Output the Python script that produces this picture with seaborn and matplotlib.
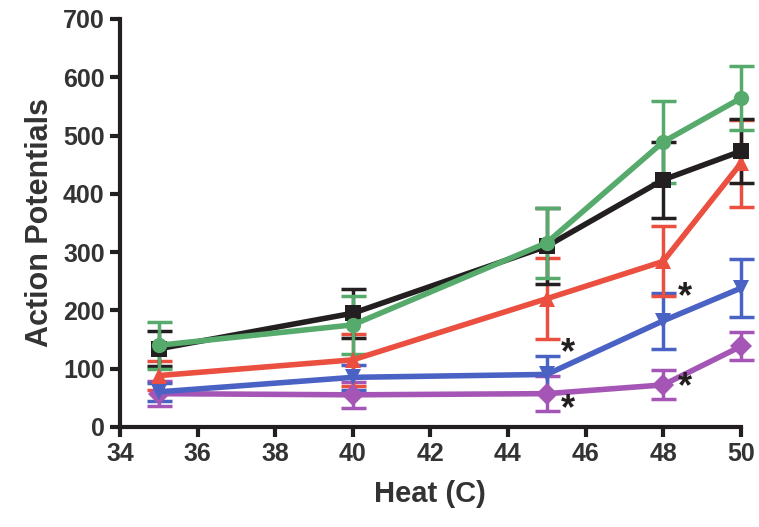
import matplotlib
matplotlib.use("Agg")
import matplotlib.pyplot as plt
import pandas as pd
import seaborn as sns

heat = [35, 40, 45, 48, 50]

black_mean = [134, 195, 310, 424, 473]
black_err = [30, 42, 65, 65, 55]
green_mean = [140, 175, 316, 489, 564]
green_err = [40, 50, 60, 70, 55]
red_mean = [88, 115, 220, 284, 452]
red_err = [25, 45, 70, 60, 75]
blue_mean = [60, 85, 90, 182, 238]
blue_err = [15, 22, 32, 48, 50]
purple_mean = [57, 55, 57, 72, 138]
purple_err = [22, 22, 30, 25, 24]

# (series, colour, marker) in drawing order
series = [
    ("purple", purple_mean, purple_err, "#a555b5", "D"),
    ("blue", blue_mean, blue_err, "#4a62c4", "v"),
    ("red", red_mean, red_err, "#ea4f40", "^"),
    ("black", black_mean, black_err, "#231f20", "s"),
    ("green", green_mean, green_err, "#55aa6c", "o"),
]

# significance markers: (heat, value)
stars = [(45, 125), (45, 30), (48, 222), (48, 68)]

sns.set_theme(style="ticks")
plt.rcParams["font.family"] = ["Liberation Sans", "DejaVu Sans"]

fig = plt.figure(figsize=(7.59, 5.27), dpi=100)
ax = fig.add_axes([0.158, 0.19, 0.818, 0.774])

for name, mean, err, color, marker in series:
    df = pd.DataFrame({"heat": heat, "value": mean})
    ax.errorbar(heat, mean, yerr=err, fmt="none", ecolor=color, elinewidth=2.5,
                capsize=9, capthick=2.5, clip_on=False, zorder=2)
    sns.lineplot(data=df, x="heat", y="value", ax=ax, color=color, linewidth=4,
                 marker=marker, markersize=11, markeredgewidth=0, clip_on=False, zorder=3)

for x, y in stars:
    ax.text(x + 0.55, y, "*", fontsize=26, fontweight="bold", color="#231f20",
            ha="center", va="center")

ax.set_xlim(34, 50)
ax.set_ylim(0, 700)
ax.set_xticks(range(34, 51, 2))
ax.set_yticks(range(0, 701, 100))
ax.set_xlabel("Heat (C)", fontsize=21, fontweight="bold", color="#333333", labelpad=10)
ax.set_ylabel("Action Potentials", fontsize=22, fontweight="bold", color="#333333", labelpad=6)
ax.tick_params(axis="both", width=3, length=7, color="#231f20", labelsize=18,
               labelcolor="#333333", pad=4)
for lab in ax.get_xticklabels() + ax.get_yticklabels():
    lab.set_fontweight("bold")
for side in ["left", "bottom"]:
    ax.spines[side].set_linewidth(3)
    ax.spines[side].set_color("#231f20")
sns.despine(ax=ax)

fig.savefig("out.png", dpi=100)
